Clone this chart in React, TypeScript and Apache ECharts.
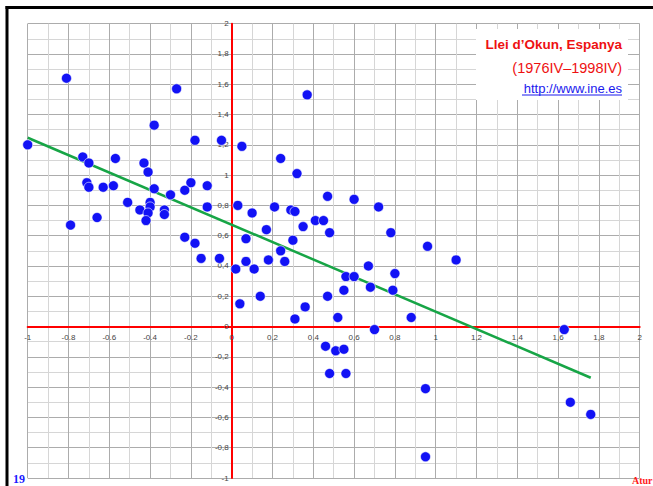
import React, { useEffect, useRef } from "react";
import * as echarts from "echarts";

// Change in unemployment (Atur, x) vs GDP growth (y), Spain 1976IV–1998IV
const atur = [
  -0.81, -0.27, 0.37, -0.38, -1.0, -0.18, -0.05, 0.05, -0.73, -0.7, -0.57, -0.43, -0.41, 0.24, 0.32,
  -0.71, -0.7, -0.63, -0.58, -0.38, -0.2, -0.23, -0.12, -0.3, 0.47, 0.6, -0.51, -0.4, -0.4, -0.45,
  -0.41, -0.42, -0.33, -0.33, -0.66, -0.79, -0.12, 0.03, 0.1, 0.21, 0.29, 0.31, 0.72, 0.17, 0.35,
  0.41, 0.45, 0.48, 0.78, 0.07, 0.3, 0.24, 0.96, 1.1, -0.23, -0.18, -0.15, -0.06, 0.02, 0.07,
  0.11, 0.18, 0.26, 0.67, 0.8, 0.56, 0.6, 0.68, 0.55, 0.79, 0.47, 0.14, 0.04, 0.36, 0.31,
  0.52, 0.88, 0.7, 1.63, 0.46, 0.51, 0.55, 0.48, 0.56, 0.95, 1.66, 1.76, 0.95,
];
const pib = [
  1.64, 1.57, 1.53, 1.33, 1.2, 1.23, 1.23, 1.19, 1.12, 1.08, 1.11, 1.08, 1.02, 1.11, 1.01,
  0.95, 0.92, 0.92, 0.93, 0.91, 0.95, 0.9, 0.93, 0.87, 0.86, 0.84, 0.82, 0.82, 0.79, 0.77,
  0.75, 0.7, 0.77, 0.74, 0.72, 0.67, 0.79, 0.8, 0.75, 0.79, 0.77, 0.76, 0.79, 0.64, 0.66,
  0.7, 0.7, 0.62, 0.62, 0.58, 0.57, 0.5, 0.53, 0.44, 0.59, 0.55, 0.45, 0.45, 0.38, 0.43,
  0.38, 0.44, 0.43, 0.4, 0.35, 0.33, 0.33, 0.26, 0.24, 0.24, 0.2, 0.2, 0.15, 0.13, 0.05,
  0.06, 0.06, -0.02, -0.02, -0.13, -0.16, -0.15, -0.31, -0.31, -0.41, -0.5, -0.58, -0.86,
];
// Fitted trend line end points
const trendX = [-1.0, 1.76];
const trendY = [1.247, -0.338];

const titleLines = ["Llei d\u2019Okun, Espanya", "(1976IV\u20131998IV)", "http://www.ine.es"];
const cornerLabels = ["19", "Atur"];

function fmt(v: number, dotNeg: boolean) {
  const r = Math.round(v * 10) / 10;
  const s = String(r);
  if (r < 0 && dotNeg) return s;
  return s.replace(".", ",");
}

const GRID_LEFT = 27.7;
const GRID_RIGHT = 13.3;
const GRID_TOP = 23.7;
const GRID_BOTTOM = 8;
const W = 653;
const H = 486;

export default function App() {
  const ref = useRef<HTMLDivElement>(null);
  useEffect(() => {
    if (!ref.current) return;
    const chart = echarts.init(ref.current, null, { renderer: "svg" });
    const pts = atur.map((x, i) => [x, pib[i]]);
    const trend = trendX.map((x, i) => [x, trendY[i]]);
    const labelStyle = { fontFamily: "Liberation Sans", fontSize: 8, color: "#444" };
    const plotW = W - GRID_LEFT - GRID_RIGHT;
    const plotH = H - GRID_TOP - GRID_BOTTOM;
    // distance of the zero line from the bottom / left edge of the plot (range -1..2)
    const xOff = -(plotH * (0 - -1)) / 3;
    const yOff = -(plotW * (0 - -1)) / 3;
    chart.setOption({
      animation: false,
      backgroundColor: "#fff",
      grid: {
        left: GRID_LEFT,
        right: GRID_RIGHT,
        top: GRID_TOP,
        bottom: GRID_BOTTOM,
        containLabel: false,
        outerBoundsMode: "none",
      },
      xAxis: {
        type: "value",
        min: -1,
        max: 2,
        interval: 0.2,
        position: "bottom",
        offset: xOff,
        axisLine: { onZero: false, lineStyle: { color: "#ff0000", width: 2 } },
        axisTick: { show: false },
        axisLabel: { ...labelStyle, margin: 7, formatter: (v: number) => fmt(v, true) },
        splitLine: { show: true, lineStyle: { color: "#acacac", width: 1 } },
        minorTick: { show: false, splitNumber: 2 },
        minorSplitLine: { show: true, lineStyle: { color: "#d6d6d6", width: 1 } },
        z: 1,
      },
      yAxis: {
        type: "value",
        min: -1,
        max: 2,
        interval: 0.2,
        position: "left",
        offset: yOff,
        axisLine: { onZero: false, lineStyle: { color: "#ff0000", width: 2 } },
        axisTick: { show: false },
        axisLabel: { ...labelStyle, margin: 3, formatter: (v: number) => fmt(v, false) },
        splitLine: { show: true, lineStyle: { color: "#acacac", width: 1 } },
        minorTick: { show: false, splitNumber: 2 },
        minorSplitLine: { show: true, lineStyle: { color: "#d6d6d6", width: 1 } },
        z: 1,
      },
      series: [
        {
          type: "line",
          data: trend,
          symbol: "none",
          lineStyle: { color: "#17a546", width: 2.5 },
          z: 3,
          silent: true,
        },
        {
          type: "scatter",
          data: pts,
          symbolSize: 10,
          itemStyle: { color: "#1212f5", borderColor: "#ffffff", borderWidth: 0.6, opacity: 1 },
          z: 4,
        },
      ],
      graphic: [
        { type: "rect", shape: { x: 5.5, y: 6, width: 660, height: 3 }, style: { fill: "#000" }, z: 10 },
        { type: "rect", shape: { x: 5.5, y: 6, width: 3, height: 490 }, style: { fill: "#000" }, z: 10 },
        { type: "rect", shape: { x: 476, y: 29, width: 152, height: 71 }, style: { fill: "#fff" }, z: 10 },
        {
          type: "text", x: 622, y: 44, z: 11,
          style: { text: titleLines[0], fill: "#ee1111", fontFamily: "Liberation Sans", fontWeight: "bold", fontSize: 13.5, align: "right", verticalAlign: "middle" },
        },
        {
          type: "text", x: 622, y: 68, z: 11,
          style: { text: titleLines[1], fill: "#ee1111", fontFamily: "Liberation Sans", fontSize: 14.5, align: "right", verticalAlign: "middle" },
        },
        {
          type: "text", x: 622, y: 88, z: 11,
          style: { text: titleLines[2], fill: "#1a1aee", fontFamily: "Liberation Sans", fontSize: 13, align: "right", verticalAlign: "middle" },
        },
        { type: "line", shape: { x1: 522, y1: 95, x2: 622, y2: 95 }, style: { stroke: "#1a1aee", lineWidth: 1 }, z: 11 },
        {
          type: "text", x: 13, y: 479, z: 11,
          style: { text: cornerLabels[0], fill: "#1a1aff", fontFamily: "Liberation Serif", fontWeight: "bold", fontSize: 12, align: "left", verticalAlign: "middle" },
        },
        {
          type: "text", x: 632, y: 480, z: 11,
          style: { text: cornerLabels[1], fill: "#ff1a1a", fontFamily: "Liberation Serif", fontWeight: "bold", fontSize: 10, align: "left", verticalAlign: "middle" },
        },
      ],
    });
    return () => chart.dispose();
  }, []);
  return (
    <div
      ref={ref}
      style={{ position: "fixed", left: 0, top: 0, width: W, height: H, background: "#fff" }}
    />
  );
}
